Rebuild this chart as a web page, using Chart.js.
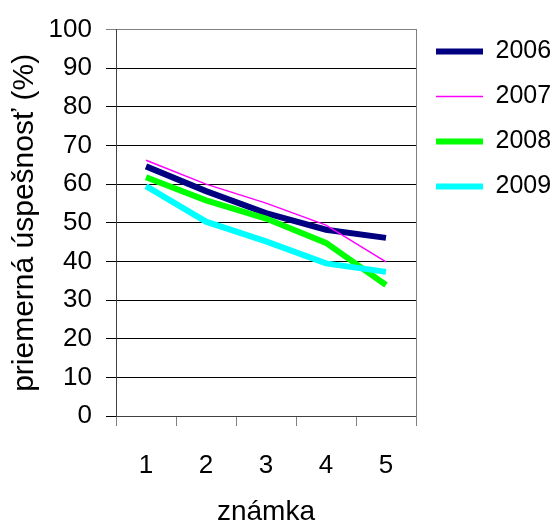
<!DOCTYPE html>
<html>
<head>
<meta charset="utf-8">
<script src="https://cdn.jsdelivr.net/npm/chart.js@4/dist/chart.umd.min.js"></script>
<style>
  html, body { margin: 0; padding: 0; background: #ffffff; }
  #wrap { width: 553px; height: 526px; position: relative; }
</style>
</head>
<body>
<div id="wrap"><canvas id="c" width="553" height="526"></canvas></div>
<script>
// --- data ---
const categories = ['1', '2', '3', '4', '5'];
const seriesNames = ['2006', '2007', '2008', '2009'];
const values2006 = [64.6, 58.2, 52.5, 48.2, 46.1];
const values2007 = [66.2, 60.0, 55.1, 49.4, 39.9];
const values2008 = [61.8, 55.8, 51.1, 44.8, 33.9];
const values2009 = [59.5, 50.3, 45.2, 39.5, 37.3];
const yTickValues = [0, 10, 20, 30, 40, 50, 60, 70, 80, 90, 100];
const yTitle = 'priemerná úspešnosť (%)';
const xTitle = 'známka';

const colors = ['#000080', '#FF00FF', '#00FF00', '#00FFFF'];
const widths = [6, 1.5, 6, 6];
const allValues = [values2006, values2007, values2008, values2009];

const FONT = 'Liberation Sans, Arial, sans-serif';

const datasets = seriesNames.map((name, i) => ({
  label: name,
  data: allValues[i],
  borderColor: colors[i],
  backgroundColor: colors[i],
  borderWidth: widths[i],
  pointRadius: 0,
  pointHoverRadius: 0,
  tension: 0,
  fill: false,
  pointStyle: 'line',
  order: seriesNames.length - i
}));

new Chart(document.getElementById('c'), {
  type: 'line',
  data: { labels: categories, datasets },
  options: {
    responsive: false,
    animation: false,
    events: [],
    layout: { padding: { top: 19, left: 7, right: 0, bottom: 0 } },
    plugins: {
      tooltip: { enabled: false },
      legend: {
        position: 'right',
        align: 'start',
        fullSize: true,
        maxWidth: 137,
        labels: {
          usePointStyle: true,
          pointStyleWidth: 47,
          boxHeight: 6,
          padding: 20,
          color: '#000',
          font: { family: FONT, size: 25 },
          sort: (a, b) => a.datasetIndex - b.datasetIndex
        }
      }
    },
    scales: {
      x: {
        type: 'category',
        offset: true,
        grid: {
          offset: true,
          drawOnChartArea: false,
          drawTicks: true,
          tickLength: 10,
          color: '#808080',
          lineWidth: 1
        },
        border: { display: true, color: '#404040', width: 1 },
        ticks: {
          color: '#000',
          font: { family: FONT, size: 26 },
          padding: 24,
          maxRotation: 0
        },
        title: {
          display: true,
          text: xTitle,
          color: '#000',
          font: { family: FONT, size: 28 },
          padding: { top: 0, bottom: -3 }
        },
        afterFit: (s) => { s.height = 110; }
      },
      xTop: {
        type: 'category',
        position: 'top',
        offset: true,
        grid: { display: false, drawTicks: false },
        border: { display: false },
        ticks: { display: false },
        afterFit: (s) => { s.height = 4; }
      },
      y: {
        min: 0,
        max: 100,
        afterBuildTicks: (s) => { s.ticks = yTickValues.map(v => ({ value: v })); },
        grid: {
          drawTicks: true,
          tickLength: 10,
          color: (ctx) => (ctx.tick && ctx.tick.value === 100 ? '#808080' : '#000000'),
          lineWidth: 1
        },
        border: { display: true, color: '#404040', width: 1 },
        ticks: {
          color: '#000',
          font: { family: FONT, size: 26 },
          padding: 14
        },
        title: {
          display: true,
          text: yTitle,
          color: '#000',
          font: { family: FONT, size: 30 },
          padding: { top: 0, bottom: 0 }
        },
        afterFit: (s) => { s.width = 109; }
      },
      y2: {
        position: 'right',
        min: 0,
        max: 100,
        grid: { drawOnChartArea: false, drawTicks: false },
        border: { display: true, color: '#808080', width: 1 },
        ticks: { display: false },
        afterFit: (s) => { s.width = 0; }
      }
    }
  }
});
</script>
</body>
</html>
